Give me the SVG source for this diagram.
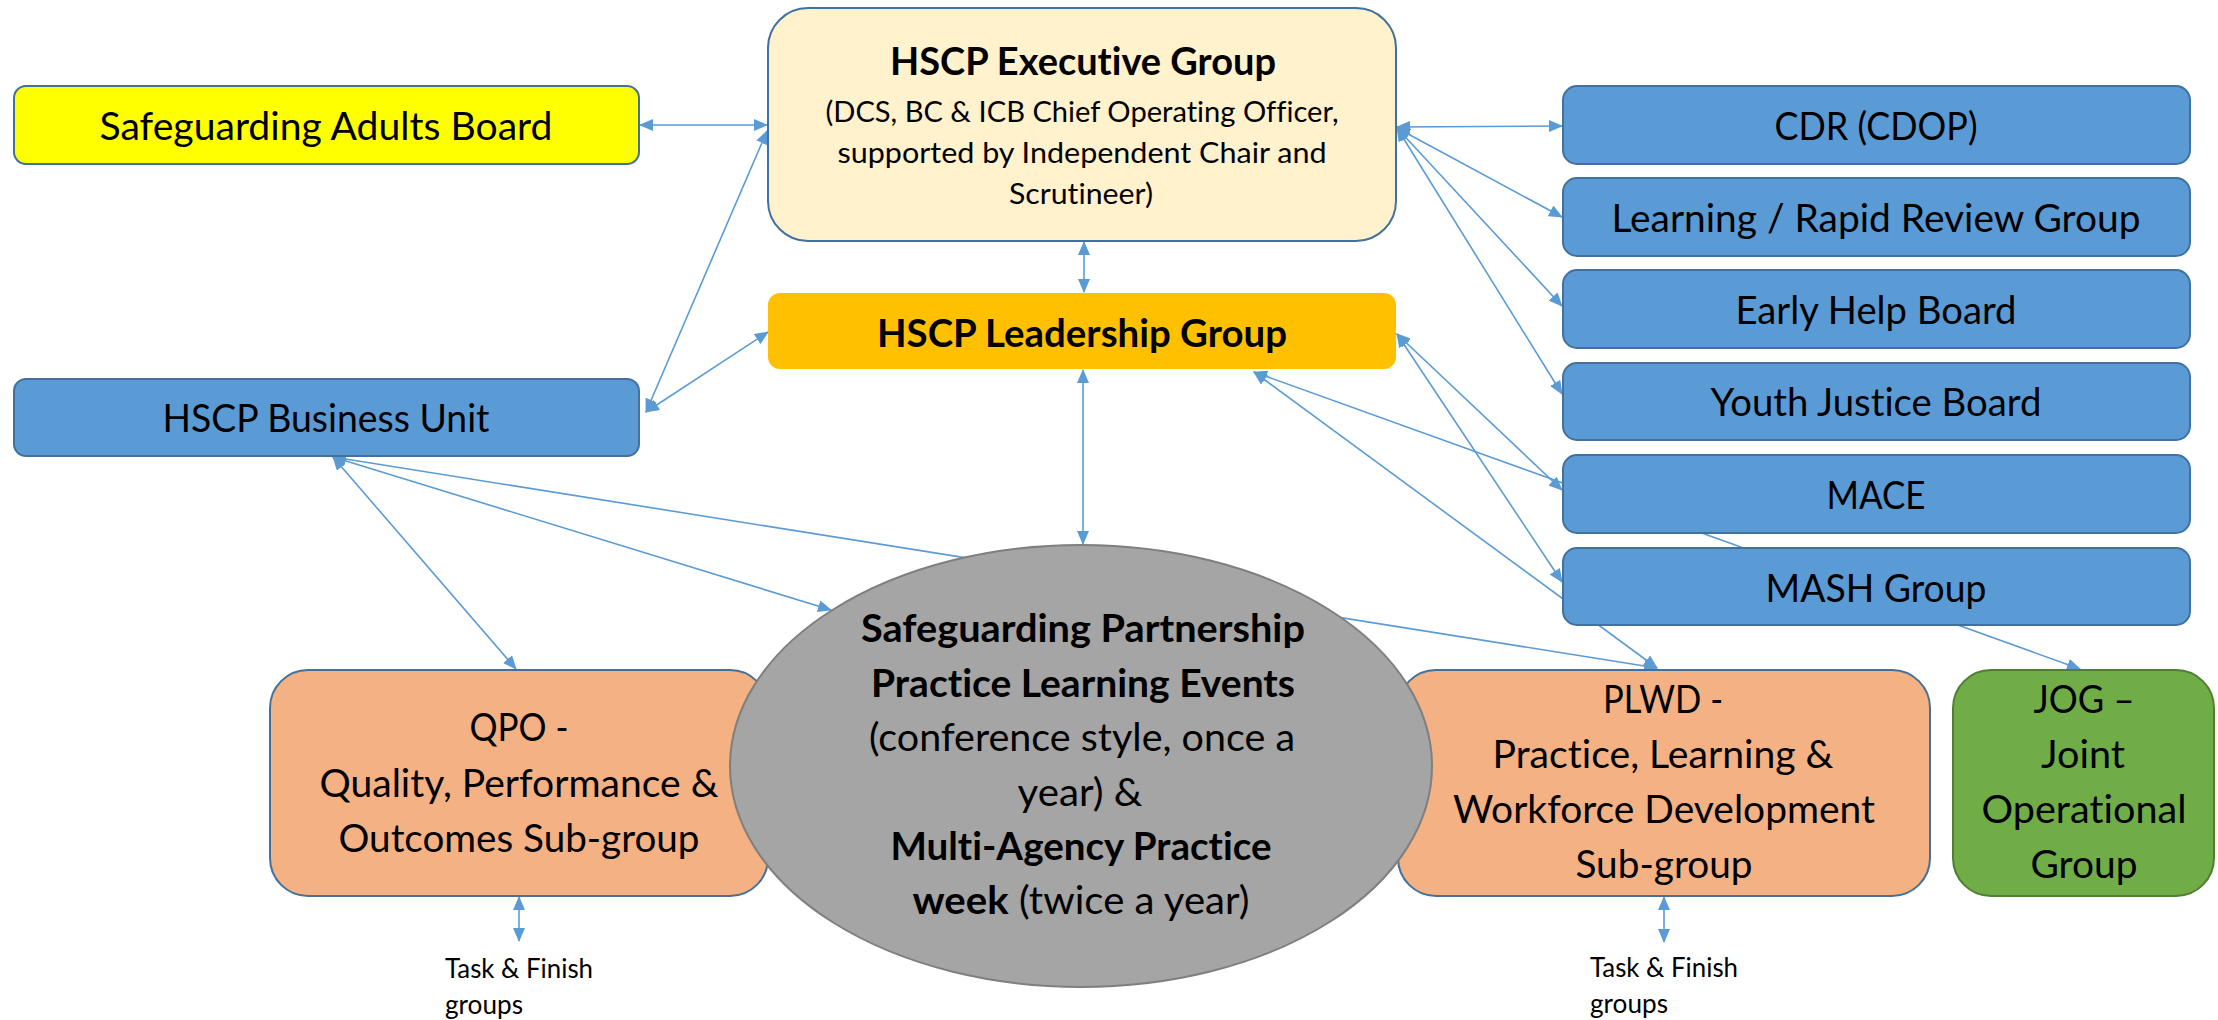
<svg xmlns="http://www.w3.org/2000/svg" width="2218" height="1020" viewBox="0 0 2218 1020">
<style>
.t{font-family:Lato,"Liberation Sans",sans-serif;fill:#000;text-anchor:middle;font-variant-ligatures:none}
.m{font-size:39px}
.b{font-weight:bold}
.s{font-size:29px}
.sm{font-size:26px;text-anchor:start}
.blue{fill:#5B9BD5;stroke:#41719C;stroke-width:2}
.peach{fill:#F4B183;stroke:#41719C;stroke-width:2}
.c line{stroke:#5B9BD5;stroke-width:1.6;fill:none;marker-start:url(#ah);marker-end:url(#ah)}
</style>
<defs>
<marker id="ah" viewBox="0 0 14 12" refX="13" refY="6" markerWidth="14" markerHeight="12" markerUnits="userSpaceOnUse" orient="auto-start-reverse"><path d="M0,0 L14,6 L0,12 z" fill="#5B9BD5"/></marker>
</defs>
<rect width="2218" height="1020" fill="#fff"/>
<g id="connectors" class="c">
<line x1="640" y1="125" x2="767" y2="125"/>
<line x1="646" y1="412" x2="767" y2="131"/>
<line x1="646" y1="412" x2="768" y2="332"/>
<line x1="1084" y1="242" x2="1084" y2="292"/>
<line x1="1083" y1="370" x2="1083" y2="544"/>
<line x1="1397" y1="127" x2="1562" y2="126"/>
<line x1="1397" y1="128" x2="1562" y2="217"/>
<line x1="1397" y1="128" x2="1562" y2="306"/>
<line x1="1397" y1="128" x2="1562" y2="394"/>
<line x1="1397" y1="334" x2="1562" y2="490"/>
<line x1="1397" y1="334" x2="1562" y2="582"/>
<line x1="1254" y1="372" x2="2080" y2="669"/>
<line x1="1254" y1="372" x2="1657" y2="668"/>
<line x1="333" y1="457" x2="516" y2="669"/>
<line x1="333" y1="457" x2="831" y2="610"/>
<line x1="333" y1="457" x2="1657" y2="668"/>
<line x1="519" y1="897" x2="519" y2="941"/>
<line x1="1664" y1="897" x2="1664" y2="942"/>
</g>
<g id="sab"><rect x="14" y="86" width="625" height="78" rx="12" fill="#FFFF00" stroke="#41719C" stroke-width="2"/><text class="t m" x="326" y="140" textLength="453" lengthAdjust="spacingAndGlyphs">Safeguarding Adults Board</text></g>
<g id="bu"><rect class="blue" x="14" y="379" width="625" height="77" rx="12"/><text class="t m" x="326" y="432" textLength="327" lengthAdjust="spacingAndGlyphs">HSCP Business Unit</text></g>
<g id="exec"><rect x="768" y="8" width="628" height="233" rx="40" fill="#FFF2CC" stroke="#41719C" stroke-width="2"/>
<text class="t m b" x="1083" y="75" textLength="386" lengthAdjust="spacingAndGlyphs">HSCP Executive Group</text>
<text class="t s" x="1082" y="122" textLength="513" lengthAdjust="spacingAndGlyphs">(DCS, BC &amp; ICB Chief Operating Officer,</text>
<text class="t s" x="1082" y="163" textLength="489" lengthAdjust="spacingAndGlyphs">supported by Independent  Chair and</text>
<text class="t s" x="1081" y="204" textLength="144" lengthAdjust="spacingAndGlyphs">Scrutineer)</text></g>
<g id="leadership"><rect x="768" y="293" width="628" height="76" rx="12" fill="#FFC000"/><text class="t m b" x="1082" y="347" textLength="410" lengthAdjust="spacingAndGlyphs">HSCP Leadership Group</text></g>
<g id="cdr"><rect class="blue" x="1563" y="86" width="627" height="78" rx="14"/><text class="t m" x="1876" y="140" textLength="203" lengthAdjust="spacingAndGlyphs">CDR (CDOP)</text></g>
<g id="lrrg"><rect class="blue" x="1563" y="178" width="627" height="78" rx="14"/><text class="t m" x="1876" y="232" textLength="529" lengthAdjust="spacingAndGlyphs">Learning / Rapid Review Group</text></g>
<g id="ehb"><rect class="blue" x="1563" y="270" width="627" height="78" rx="14"/><text class="t m" x="1876" y="324" textLength="281" lengthAdjust="spacingAndGlyphs">Early Help Board</text></g>
<g id="yjb"><rect class="blue" x="1563" y="363" width="627" height="77" rx="14"/><text class="t m" x="1876" y="416" textLength="331" lengthAdjust="spacingAndGlyphs">Youth Justice Board</text></g>
<g id="mace"><rect class="blue" x="1563" y="455" width="627" height="78" rx="14"/><text class="t m" x="1876" y="509" textLength="99" lengthAdjust="spacingAndGlyphs">MACE</text></g>
<g id="mash"><rect class="blue" x="1563" y="548" width="627" height="77" rx="14"/><text class="t m" x="1876" y="602" textLength="221" lengthAdjust="spacingAndGlyphs">MASH Group</text></g>
<g id="qpo"><rect class="peach" x="270" y="670" width="498" height="226" rx="38"/>
<text class="t m" x="519" y="741" textLength="99" lengthAdjust="spacingAndGlyphs">QPO -</text>
<text class="t m" x="519" y="797" textLength="399" lengthAdjust="spacingAndGlyphs">Quality, Performance &amp;</text>
<text class="t m" x="519" y="852" textLength="361" lengthAdjust="spacingAndGlyphs">Outcomes Sub-group</text></g>
<g id="plwd"><rect class="peach" x="1398" y="670" width="532" height="226" rx="38"/>
<text class="t m" x="1663" y="713" textLength="120" lengthAdjust="spacingAndGlyphs">PLWD -</text>
<text class="t m" x="1663" y="768" textLength="341" lengthAdjust="spacingAndGlyphs">Practice, Learning &amp;</text>
<text class="t m" x="1664" y="823" textLength="422" lengthAdjust="spacingAndGlyphs">Workforce Development</text>
<text class="t m" x="1664" y="878" textLength="177" lengthAdjust="spacingAndGlyphs">Sub-group</text></g>
<g id="jog"><rect x="1953" y="670" width="261" height="226" rx="38" fill="#70AD47" stroke="#507E32" stroke-width="2"/>
<text class="t m" x="2084" y="713" textLength="101" lengthAdjust="spacingAndGlyphs">JOG –</text>
<text class="t m" x="2083" y="768" textLength="84" lengthAdjust="spacingAndGlyphs">Joint</text>
<text class="t m" x="2084" y="823" textLength="205" lengthAdjust="spacingAndGlyphs">Operational</text>
<text class="t m" x="2084" y="878" textLength="107" lengthAdjust="spacingAndGlyphs">Group</text></g>
<g id="events"><ellipse cx="1081" cy="766" rx="351" ry="221" fill="#A5A5A5" stroke="#7F7F7F" stroke-width="2"/>
<text class="t m b" x="1083" y="642" textLength="444" lengthAdjust="spacingAndGlyphs">Safeguarding Partnership</text>
<text class="t m b" x="1083" y="697" textLength="424" lengthAdjust="spacingAndGlyphs">Practice Learning Events</text>
<text class="t m" x="1082" y="751" textLength="426" lengthAdjust="spacingAndGlyphs">(conference style, once a</text>
<text class="t m" x="1080" y="806" textLength="125" lengthAdjust="spacingAndGlyphs">year) &amp;</text>
<text class="t m b" x="1081" y="860" textLength="381" lengthAdjust="spacingAndGlyphs">Multi-Agency Practice</text>
<text class="t m" x="1081" y="914" textLength="337" lengthAdjust="spacingAndGlyphs"><tspan font-weight="bold">week</tspan> (twice a year)</text></g>
<g id="tf-left"><text class="t sm" x="445" y="978" textLength="148" lengthAdjust="spacingAndGlyphs">Task &amp; Finish</text><text class="t sm" x="445" y="1014" textLength="78" lengthAdjust="spacingAndGlyphs">groups</text></g>
<g id="tf-right"><text class="t sm" x="1590" y="977" textLength="148" lengthAdjust="spacingAndGlyphs">Task &amp; Finish</text><text class="t sm" x="1590" y="1013" textLength="78" lengthAdjust="spacingAndGlyphs">groups</text></g>
</svg>
